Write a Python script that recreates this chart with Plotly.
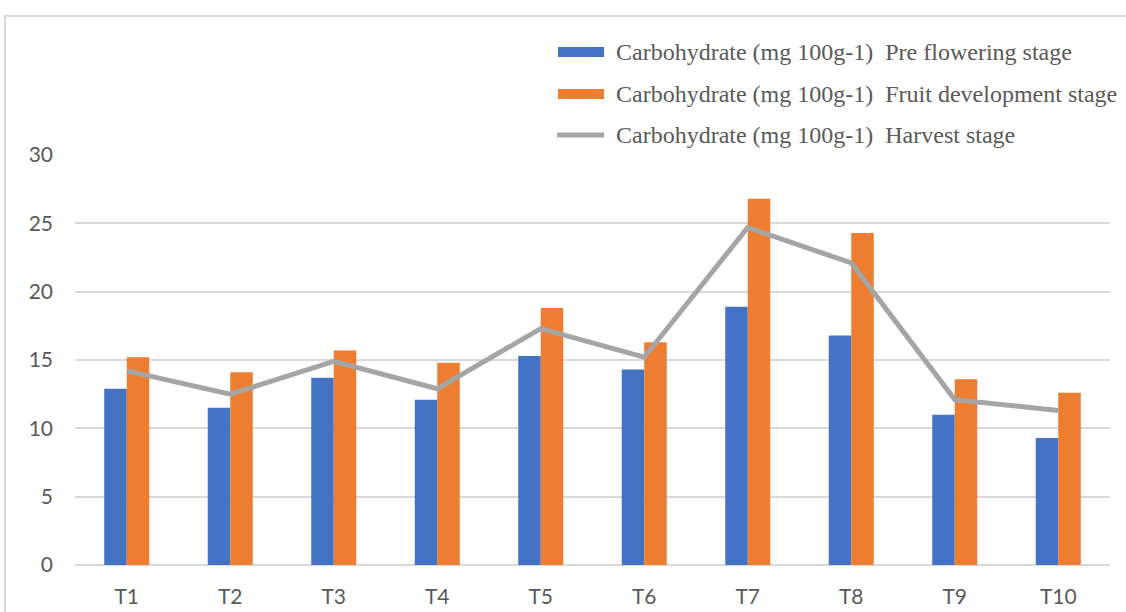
import plotly.graph_objects as go

# Treatments and carbohydrate content (mg 100g-1) at three growth stages
treatments = ["T1", "T2", "T3", "T4", "T5", "T6", "T7", "T8", "T9", "T10"]
pre_flowering = [12.9, 11.5, 13.7, 12.1, 15.3, 14.3, 18.9, 16.8, 11.0, 9.3]
fruit_development = [15.2, 14.1, 15.7, 14.8, 18.8, 16.3, 26.8, 24.3, 13.6, 12.6]
harvest = [14.2, 12.5, 14.9, 12.9, 17.3, 15.2, 24.7, 22.1, 12.1, 11.3]

series_names = [
    "Carbohydrate (mg 100g-1)  Pre flowering stage",
    "Carbohydrate (mg 100g-1)  Fruit development stage",
    "Carbohydrate (mg 100g-1)  Harvest stage",
]
y_ticks = [0, 5, 10, 15, 20, 25, 30]

BLUE = "#4472C4"
ORANGE = "#ED7D31"
GRAY = "#A5A5A5"

W, H = 1126, 612
ML, MR, MT, MB = 75, 16, 155, 47
PW, PH = W - ML - MR, H - MT - MB


def px(x):
    return (x - ML) / PW


def py(y):
    return (H - MB - y) / PH


fig = go.Figure()
fig.add_trace(go.Bar(x=treatments, y=pre_flowering, name=series_names[0],
                     marker=dict(color=BLUE, line=dict(width=0))))
fig.add_trace(go.Bar(x=treatments, y=fruit_development, name=series_names[1],
                     marker=dict(color=ORANGE, line=dict(width=0))))
fig.add_trace(go.Scatter(x=treatments, y=harvest, name=series_names[2], mode="lines",
                         line=dict(color=GRAY, width=5)))

shapes = []
annotations = []

# outer chart frame
shapes.append(dict(type="rect", xref="paper", yref="paper",
                   x0=px(5), x1=px(W + 10), y0=py(H + 10), y1=py(16),
                   line=dict(color="#D9D9D9", width=2), fillcolor="rgba(0,0,0,0)",
                   layer="below"))

# legend entries
legend_rows = [52, 94, 135]
for i, (name, yc) in enumerate(zip(series_names, legend_rows)):
    if i < 2:
        shapes.append(dict(type="rect", xref="paper", yref="paper",
                           x0=px(558), x1=px(604), y0=py(yc + 5), y1=py(yc - 5),
                           fillcolor=[BLUE, ORANGE][i], line=dict(width=0)))
    else:
        shapes.append(dict(type="line", xref="paper", yref="paper",
                           x0=px(557), x1=px(604), y0=py(yc), y1=py(yc),
                           line=dict(color=GRAY, width=5)))
    annotations.append(dict(xref="paper", yref="paper", x=px(614), y=py(yc),
                            xanchor="left", yanchor="middle", showarrow=False,
                            text=name.replace("  ", "&nbsp; "),
                            font=dict(family="Liberation Serif", size=24, color="#595959")))

fig.update_layout(
    width=W, height=H,
    margin=dict(l=ML, r=MR, t=MT, b=MB),
    paper_bgcolor="white", plot_bgcolor="white",
    barmode="group", bargap=0.565, bargroupgap=0,
    showlegend=False,
    shapes=shapes, annotations=annotations,
    font=dict(family="Lato", size=21, color="#595959"),
)
fig.update_xaxes(showgrid=False, showline=False, ticks="", ticklabelstandoff=17,
                 automargin=False,
                 tickfont=dict(family="Lato", size=21, color="#595959"))
fig.update_yaxes(range=[0, 30], tickvals=y_ticks, showgrid=True,
                 gridcolor="#D9D9D9", gridwidth=1.5, zeroline=True,
                 zerolinecolor="#D9D9D9", zerolinewidth=1.5, showline=False,
                 ticks="", ticklabelstandoff=21, automargin=False,
                 tickfont=dict(family="Lato", size=21, color="#595959"))

fig.write_html("out.html")
